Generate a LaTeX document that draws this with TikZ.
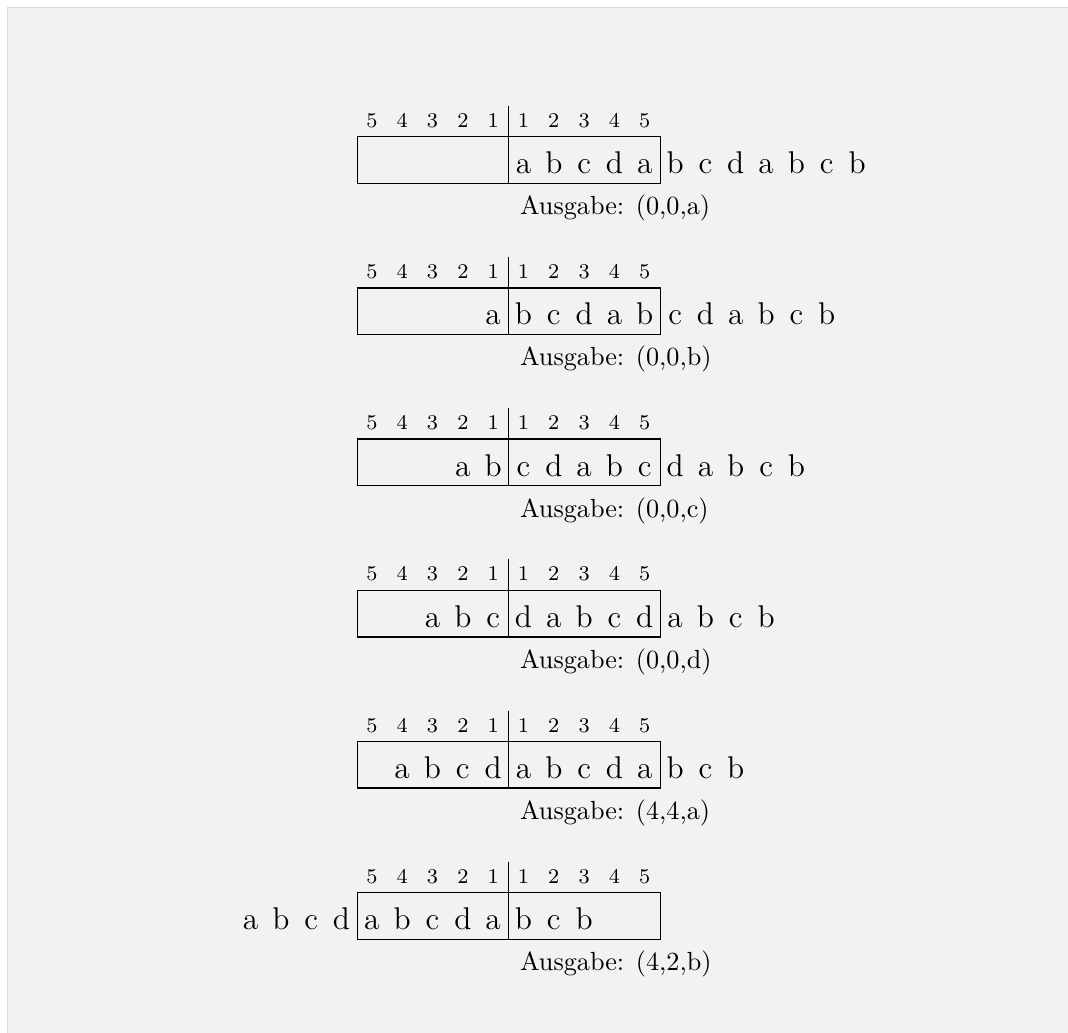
\documentclass[tikz,border=0pt]{standalone}
\definecolor{bgc}{HTML}{F2F2F2}
\definecolor{bordc}{HTML}{D8D8D8}
\begin{document}
\begin{tikzpicture}[x=0.3817pt,y=-0.3817pt,
  letter/.style={anchor=base,inner sep=0pt,font=\large},
  idx/.style={anchor=base,inner sep=0pt,font=\footnotesize},
  outtext/.style={anchor=base west,inner sep=0pt,font=\normalsize},
  bufbox/.style={line width=0.5pt},
  divider/.style={line width=0.5pt}]
\useasboundingbox (0,0) rectangle (1068,1033);
\fill[white] (0,0) rectangle (1068,1033);
\draw[fill=bgc,draw=bordc,line width=0.6pt] (7.5,7.5) rectangle (1080,1045);
\foreach \k/\start/\out in {0/0/{(0,0,a)},1/-1/{(0,0,b)},2/-2/{(0,0,c)},3/-3/{(0,0,d)},4/-4/{(4,4,a)},5/-9/{(4,2,b)}}{
  \pgfmathsetmacro\top{136.7+151.2*\k}
  \coordinate (bl\k) at (357.3,\top+46.6);
  \coordinate (tr\k) at (660.7,\top);
  \coordinate (dtop\k) at (508.3,\top-31);
  \coordinate (dbot\k) at (508.3,\top+46.6);
  \draw[bufbox] (bl\k) rectangle (tr\k);
  \draw[divider] (dtop\k) -- (dbot\k);
  \foreach \n [count=\j from -5] in {5,4,3,2,1,1,2,3,4,5}{
    \node[idx] (n\k-\j) at (508.3+30.33*\j+15.17,\top-9.5) {\n};
  }
  \foreach \ch [count=\i from 0] in {a,b,c,d,a,b,c,d,a,b,c,b}{
    \pgfmathsetmacro\p{\start+\i}
    \node[letter] (l\k-\i) at (508.3+30.33*\p+15.17,\top+37) {\ch};
  }
  \node[outtext] (out\k) at (519.5,\top+78) {Ausgabe: \out};
}
\end{tikzpicture}
\end{document}
